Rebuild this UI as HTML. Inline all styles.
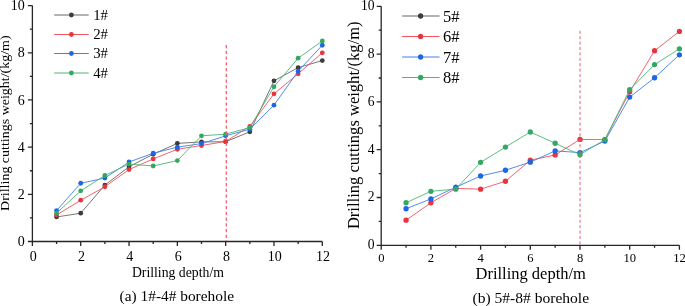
<!DOCTYPE html>
<html><head><meta charset="utf-8"><style>
html,body{margin:0;padding:0;background:#fff;}
body{width:685px;height:306px;overflow:hidden;}
svg{display:block;will-change:transform;font-family:"Liberation Serif",serif;}
text{fill:#000;}
</style></head><body>
<svg width="685" height="306" viewBox="0 0 685 306">
<polyline points="56.56,216.97 80.72,213.19 104.88,185.12 129.03,166.72 153.19,154.22 177.35,143.37 201.51,141.95 225.67,141.71 249.83,131.81 273.98,80.85 298.14,67.64 322.30,60.56" fill="none" stroke="#666666" stroke-width="0.9"/>
<circle cx="56.56" cy="216.97" r="2.4" fill="#3c3c3c"/>
<circle cx="80.72" cy="213.19" r="2.4" fill="#3c3c3c"/>
<circle cx="104.88" cy="185.12" r="2.4" fill="#3c3c3c"/>
<circle cx="129.03" cy="166.72" r="2.4" fill="#3c3c3c"/>
<circle cx="153.19" cy="154.22" r="2.4" fill="#3c3c3c"/>
<circle cx="177.35" cy="143.37" r="2.4" fill="#3c3c3c"/>
<circle cx="201.51" cy="141.95" r="2.4" fill="#3c3c3c"/>
<circle cx="225.67" cy="141.71" r="2.4" fill="#3c3c3c"/>
<circle cx="249.83" cy="131.81" r="2.4" fill="#3c3c3c"/>
<circle cx="273.98" cy="80.85" r="2.4" fill="#3c3c3c"/>
<circle cx="298.14" cy="67.64" r="2.4" fill="#3c3c3c"/>
<circle cx="322.30" cy="60.56" r="2.4" fill="#3c3c3c"/>
<polyline points="56.56,215.08 80.72,200.22 104.88,186.77 129.03,169.55 153.19,158.94 177.35,149.26 201.51,145.49 225.67,141.48 249.83,126.38 273.98,93.83 298.14,73.78 322.30,52.78" fill="none" stroke="#f0545c" stroke-width="0.9"/>
<circle cx="56.56" cy="215.08" r="2.4" fill="#e8343c"/>
<circle cx="80.72" cy="200.22" r="2.4" fill="#e8343c"/>
<circle cx="104.88" cy="186.77" r="2.4" fill="#e8343c"/>
<circle cx="129.03" cy="169.55" r="2.4" fill="#e8343c"/>
<circle cx="153.19" cy="158.94" r="2.4" fill="#e8343c"/>
<circle cx="177.35" cy="149.26" r="2.4" fill="#e8343c"/>
<circle cx="201.51" cy="145.49" r="2.4" fill="#e8343c"/>
<circle cx="225.67" cy="141.48" r="2.4" fill="#e8343c"/>
<circle cx="249.83" cy="126.38" r="2.4" fill="#e8343c"/>
<circle cx="273.98" cy="93.83" r="2.4" fill="#e8343c"/>
<circle cx="298.14" cy="73.78" r="2.4" fill="#e8343c"/>
<circle cx="322.30" cy="52.78" r="2.4" fill="#e8343c"/>
<polyline points="56.56,210.60 80.72,183.23 104.88,178.04 129.03,162.00 153.19,153.27 177.35,147.14 201.51,143.60 225.67,135.82 249.83,129.21 273.98,105.15 298.14,71.18 322.30,45.23" fill="none" stroke="#3e80e8" stroke-width="0.9"/>
<circle cx="56.56" cy="210.60" r="2.4" fill="#1f66e2"/>
<circle cx="80.72" cy="183.23" r="2.4" fill="#1f66e2"/>
<circle cx="104.88" cy="178.04" r="2.4" fill="#1f66e2"/>
<circle cx="129.03" cy="162.00" r="2.4" fill="#1f66e2"/>
<circle cx="153.19" cy="153.27" r="2.4" fill="#1f66e2"/>
<circle cx="177.35" cy="147.14" r="2.4" fill="#1f66e2"/>
<circle cx="201.51" cy="143.60" r="2.4" fill="#1f66e2"/>
<circle cx="225.67" cy="135.82" r="2.4" fill="#1f66e2"/>
<circle cx="249.83" cy="129.21" r="2.4" fill="#1f66e2"/>
<circle cx="273.98" cy="105.15" r="2.4" fill="#1f66e2"/>
<circle cx="298.14" cy="71.18" r="2.4" fill="#1f66e2"/>
<circle cx="322.30" cy="45.23" r="2.4" fill="#1f66e2"/>
<polyline points="56.56,213.19 80.72,190.78 104.88,175.45 129.03,164.12 153.19,166.01 177.35,160.59 201.51,135.82 225.67,134.17 249.83,127.56 273.98,86.75 298.14,58.21 322.30,40.99" fill="none" stroke="#4cb476" stroke-width="0.9"/>
<circle cx="56.56" cy="213.19" r="2.4" fill="#34a862"/>
<circle cx="80.72" cy="190.78" r="2.4" fill="#34a862"/>
<circle cx="104.88" cy="175.45" r="2.4" fill="#34a862"/>
<circle cx="129.03" cy="164.12" r="2.4" fill="#34a862"/>
<circle cx="153.19" cy="166.01" r="2.4" fill="#34a862"/>
<circle cx="177.35" cy="160.59" r="2.4" fill="#34a862"/>
<circle cx="201.51" cy="135.82" r="2.4" fill="#34a862"/>
<circle cx="225.67" cy="134.17" r="2.4" fill="#34a862"/>
<circle cx="249.83" cy="127.56" r="2.4" fill="#34a862"/>
<circle cx="273.98" cy="86.75" r="2.4" fill="#34a862"/>
<circle cx="298.14" cy="58.21" r="2.4" fill="#34a862"/>
<circle cx="322.30" cy="40.99" r="2.4" fill="#34a862"/>
<line x1="226.30" y1="45.10" x2="226.30" y2="241.50" stroke="#f4606e" stroke-width="1.3" stroke-dasharray="3.1 2.65"/>
<path d="M32.40,5.60V241.50M32.40,241.50H322.30M32.40,241.50v4.5M56.56,241.50v2.5M80.72,241.50v4.5M104.88,241.50v2.5M129.03,241.50v4.5M153.19,241.50v2.5M177.35,241.50v4.5M201.51,241.50v2.5M225.67,241.50v4.5M249.83,241.50v2.5M273.98,241.50v4.5M298.14,241.50v2.5M322.30,241.50v4.5M32.40,241.50h-4.5M32.40,217.91h-2.5M32.40,194.32h-4.5M32.40,170.73h-2.5M32.40,147.14h-4.5M32.40,123.55h-2.5M32.40,99.96h-4.5M32.40,76.37h-2.5M32.40,52.78h-4.5M32.40,29.19h-2.5M32.40,5.60h-4.5" stroke="#262626" stroke-width="1.3" fill="none"/>
<text x="33.20" y="261.30" text-anchor="middle" font-size="14">0</text>
<text x="81.52" y="261.30" text-anchor="middle" font-size="14">2</text>
<text x="129.83" y="261.30" text-anchor="middle" font-size="14">4</text>
<text x="178.15" y="261.30" text-anchor="middle" font-size="14">6</text>
<text x="226.47" y="261.30" text-anchor="middle" font-size="14">8</text>
<text x="274.78" y="261.30" text-anchor="middle" font-size="14">10</text>
<text x="323.10" y="261.30" text-anchor="middle" font-size="14">12</text>
<text x="24.70" y="246.12" text-anchor="end" font-size="14">0</text>
<text x="24.70" y="198.94" text-anchor="end" font-size="14">2</text>
<text x="24.70" y="151.76" text-anchor="end" font-size="14">4</text>
<text x="24.70" y="104.58" text-anchor="end" font-size="14">6</text>
<text x="24.70" y="57.40" text-anchor="end" font-size="14">8</text>
<text x="24.70" y="10.22" text-anchor="end" font-size="14">10</text>
<text x="0" y="0" transform="translate(9.4,210.9) rotate(-90) scale(1,0.93)" font-size="14.0">Drilling cuttings weight/(kg/m)</text>
<text x="131.9" y="276.8" font-size="13.75">Drilling depth/m</text>
<text x="119.6" y="300.9" font-size="15.38">(a) 1#-4# borehole</text>
<line x1="54.2" y1="15.0" x2="88.7" y2="15.0" stroke="#666666" stroke-width="1.0"/>
<circle cx="71.4" cy="15.0" r="2.4" fill="#3c3c3c"/>
<text x="93.17" y="19.70" font-size="14.8">1#</text>
<line x1="54.2" y1="34.5" x2="88.7" y2="34.5" stroke="#f0545c" stroke-width="1.0"/>
<circle cx="71.4" cy="34.5" r="2.4" fill="#e8343c"/>
<text x="93.17" y="39.20" font-size="14.8">2#</text>
<line x1="54.2" y1="53.5" x2="88.7" y2="53.5" stroke="#3e80e8" stroke-width="1.0"/>
<circle cx="71.4" cy="53.5" r="2.4" fill="#1f66e2"/>
<text x="93.17" y="58.20" font-size="14.8">3#</text>
<line x1="54.2" y1="73.0" x2="88.7" y2="73.0" stroke="#4cb476" stroke-width="1.0"/>
<circle cx="71.4" cy="73.0" r="2.4" fill="#34a862"/>
<text x="93.17" y="77.70" font-size="14.8">4#</text>
<polyline points="406.05,220.21 430.90,202.76 455.75,188.42 480.60,189.14 505.45,181.25 530.30,160.22 555.15,154.96 580.00,139.42 604.85,139.66 629.70,91.86 654.55,50.75 679.40,31.40" fill="none" stroke="#f0545c" stroke-width="0.9"/>
<circle cx="406.05" cy="220.21" r="2.65" fill="#e8343c"/>
<circle cx="430.90" cy="202.76" r="2.65" fill="#e8343c"/>
<circle cx="455.75" cy="188.42" r="2.65" fill="#e8343c"/>
<circle cx="480.60" cy="189.14" r="2.65" fill="#e8343c"/>
<circle cx="505.45" cy="181.25" r="2.65" fill="#e8343c"/>
<circle cx="530.30" cy="160.22" r="2.65" fill="#e8343c"/>
<circle cx="555.15" cy="154.96" r="2.65" fill="#e8343c"/>
<circle cx="580.00" cy="139.42" r="2.65" fill="#e8343c"/>
<circle cx="604.85" cy="139.66" r="2.65" fill="#e8343c"/>
<circle cx="629.70" cy="91.86" r="2.65" fill="#e8343c"/>
<circle cx="654.55" cy="50.75" r="2.65" fill="#e8343c"/>
<circle cx="679.40" cy="31.40" r="2.65" fill="#e8343c"/>
<polyline points="406.05,208.73 430.90,198.93 455.75,187.22 480.60,175.99 505.45,170.25 530.30,162.13 555.15,150.90 580.00,152.57 604.85,141.10 629.70,97.12 654.55,77.76 679.40,54.82" fill="none" stroke="#3e80e8" stroke-width="0.9"/>
<circle cx="406.05" cy="208.73" r="2.65" fill="#1f66e2"/>
<circle cx="430.90" cy="198.93" r="2.65" fill="#1f66e2"/>
<circle cx="455.75" cy="187.22" r="2.65" fill="#1f66e2"/>
<circle cx="480.60" cy="175.99" r="2.65" fill="#1f66e2"/>
<circle cx="505.45" cy="170.25" r="2.65" fill="#1f66e2"/>
<circle cx="530.30" cy="162.13" r="2.65" fill="#1f66e2"/>
<circle cx="555.15" cy="150.90" r="2.65" fill="#1f66e2"/>
<circle cx="580.00" cy="152.57" r="2.65" fill="#1f66e2"/>
<circle cx="604.85" cy="141.10" r="2.65" fill="#1f66e2"/>
<circle cx="629.70" cy="97.12" r="2.65" fill="#1f66e2"/>
<circle cx="654.55" cy="77.76" r="2.65" fill="#1f66e2"/>
<circle cx="679.40" cy="54.82" r="2.65" fill="#1f66e2"/>
<polyline points="406.05,202.76 430.90,191.29 455.75,189.14 480.60,162.37 505.45,147.07 530.30,132.01 555.15,143.25 580.00,154.72 604.85,139.66 629.70,89.71 654.55,64.62 679.40,48.84" fill="none" stroke="#4cb476" stroke-width="0.9"/>
<circle cx="406.05" cy="202.76" r="2.65" fill="#34a862"/>
<circle cx="430.90" cy="191.29" r="2.65" fill="#34a862"/>
<circle cx="455.75" cy="189.14" r="2.65" fill="#34a862"/>
<circle cx="480.60" cy="162.37" r="2.65" fill="#34a862"/>
<circle cx="505.45" cy="147.07" r="2.65" fill="#34a862"/>
<circle cx="530.30" cy="132.01" r="2.65" fill="#34a862"/>
<circle cx="555.15" cy="143.25" r="2.65" fill="#34a862"/>
<circle cx="580.00" cy="154.72" r="2.65" fill="#34a862"/>
<circle cx="604.85" cy="139.66" r="2.65" fill="#34a862"/>
<circle cx="629.70" cy="89.71" r="2.65" fill="#34a862"/>
<circle cx="654.55" cy="64.62" r="2.65" fill="#34a862"/>
<circle cx="679.40" cy="48.84" r="2.65" fill="#34a862"/>
<line x1="580.00" y1="30.80" x2="580.00" y2="245.30" stroke="#f25a70" stroke-width="1.0" stroke-dasharray="3.0 2.4"/>
<path d="M381.20,6.30V245.30M381.20,245.30H679.40M381.20,245.30v4.5M406.05,245.30v2.5M430.90,245.30v4.5M455.75,245.30v2.5M480.60,245.30v4.5M505.45,245.30v2.5M530.30,245.30v4.5M555.15,245.30v2.5M580.00,245.30v4.5M604.85,245.30v2.5M629.70,245.30v4.5M654.55,245.30v2.5M679.40,245.30v4.5M381.20,245.30h-4.5M381.20,221.40h-2.5M381.20,197.50h-4.5M381.20,173.60h-2.5M381.20,149.70h-4.5M381.20,125.80h-2.5M381.20,101.90h-4.5M381.20,78.00h-2.5M381.20,54.10h-4.5M381.20,30.20h-2.5M381.20,6.30h-4.5" stroke="#262626" stroke-width="1.3" fill="none"/>
<text x="381.30" y="261.80" text-anchor="middle" font-size="12.6">0</text>
<text x="431.00" y="261.80" text-anchor="middle" font-size="12.6">2</text>
<text x="480.70" y="261.80" text-anchor="middle" font-size="12.6">4</text>
<text x="530.40" y="261.80" text-anchor="middle" font-size="12.6">6</text>
<text x="580.10" y="261.80" text-anchor="middle" font-size="12.6">8</text>
<text x="629.80" y="261.80" text-anchor="middle" font-size="12.6">10</text>
<text x="679.50" y="261.80" text-anchor="middle" font-size="12.6">12</text>
<text x="374.60" y="249.19" text-anchor="end" font-size="13.6">0</text>
<text x="374.60" y="201.39" text-anchor="end" font-size="13.6">2</text>
<text x="374.60" y="153.59" text-anchor="end" font-size="13.6">4</text>
<text x="374.60" y="105.79" text-anchor="end" font-size="13.6">6</text>
<text x="374.60" y="57.99" text-anchor="end" font-size="13.6">8</text>
<text x="374.60" y="10.19" text-anchor="end" font-size="13.6">10</text>
<text x="0" y="0" transform="translate(359.0,229.1) rotate(-90) scale(1,0.96)" font-size="16.55">Drilling cuttings weight/(kg/m)</text>
<text x="475.5" y="279.4" font-size="16.5">Drilling depth/m</text>
<text x="472.5" y="302.7" font-size="15.55">(b) 5#-8# borehole</text>
<line x1="402.1" y1="16.0" x2="439.5" y2="16.0" stroke="#666666" stroke-width="1.0"/>
<circle cx="420.6" cy="16.0" r="2.65" fill="#3c3c3c"/>
<text x="442.91" y="21.50" font-size="16.5">5#</text>
<line x1="402.1" y1="36.5" x2="439.5" y2="36.5" stroke="#f0545c" stroke-width="1.0"/>
<circle cx="420.6" cy="36.5" r="2.65" fill="#e8343c"/>
<text x="442.91" y="42.00" font-size="16.5">6#</text>
<line x1="402.1" y1="57.0" x2="439.5" y2="57.0" stroke="#3e80e8" stroke-width="1.0"/>
<circle cx="420.6" cy="57.0" r="2.65" fill="#1f66e2"/>
<text x="442.91" y="62.50" font-size="16.5">7#</text>
<line x1="402.1" y1="77.5" x2="439.5" y2="77.5" stroke="#4cb476" stroke-width="1.0"/>
<circle cx="420.6" cy="77.5" r="2.65" fill="#34a862"/>
<text x="442.91" y="83.00" font-size="16.5">8#</text>
</svg>
</body></html>
